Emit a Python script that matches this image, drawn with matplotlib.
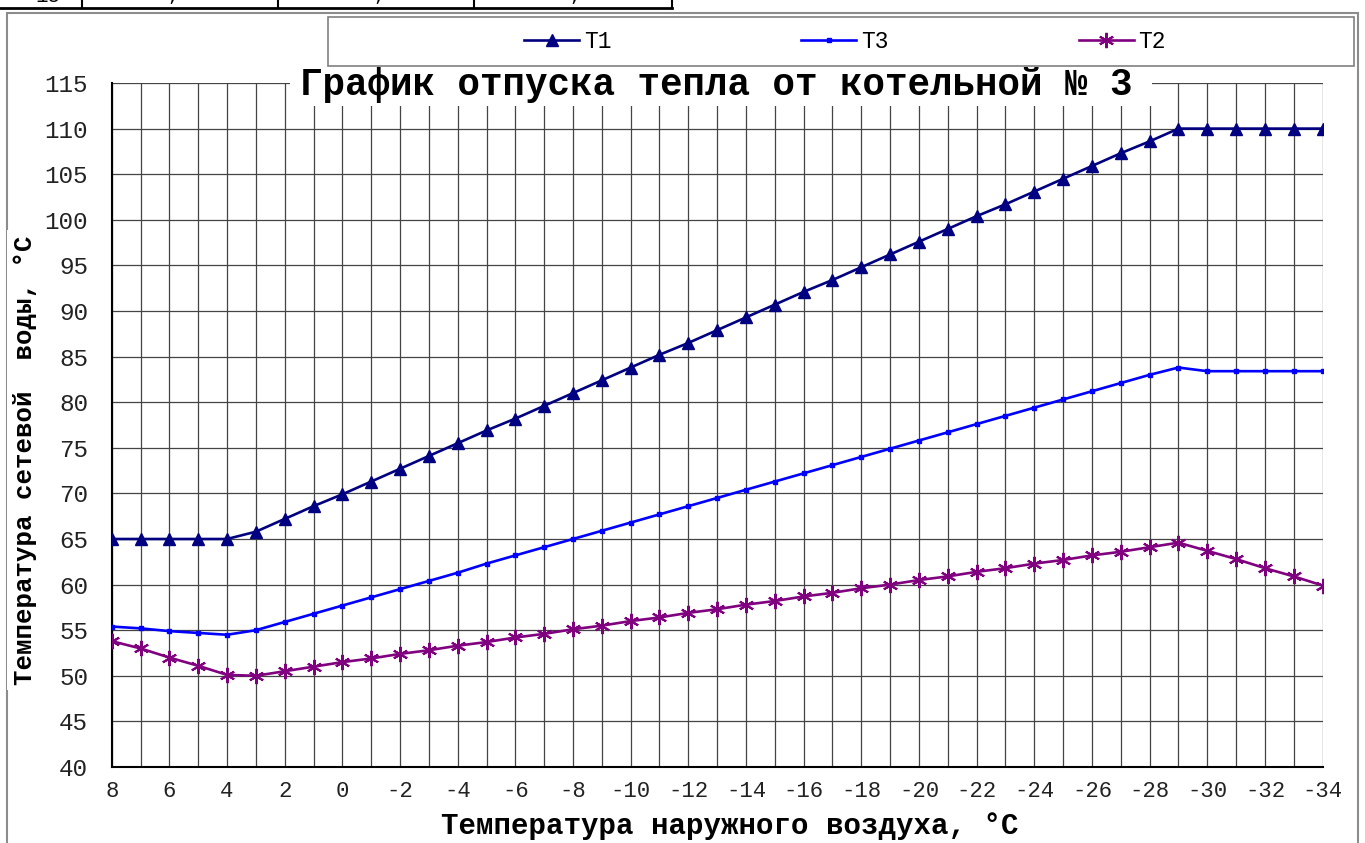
import matplotlib.pyplot as plt
from matplotlib.patches import Rectangle
from matplotlib.lines import Line2D

plt.rcParams['font.family'] = ['Liberation Mono', 'DejaVu Sans Mono']
plt.rcParams['axes.unicode_minus'] = False

# Outdoor temperature, 8 .. -34
t_out = list(range(8, -35, -1))

t1 = [65.0, 65.0, 65.0, 65.0, 65.0,
      65.8, 67.2, 68.6, 69.9, 71.3, 72.7, 74.1, 75.5, 76.9, 78.2, 79.6,
      81.0, 82.4, 83.8, 85.2, 86.5, 87.9, 89.3, 90.7, 92.1, 93.4, 94.8,
      96.2, 97.6, 99.0, 100.4, 101.7, 103.1, 104.5, 105.9, 107.3, 108.6,
      110.0, 110.0, 110.0, 110.0, 110.0, 110.0]

t3 = [55.4, 55.2, 54.9, 54.7, 54.5,
      55.0, 55.9, 56.8, 57.7, 58.6, 59.5, 60.4, 61.3, 62.3, 63.2, 64.1,
      65.0, 65.9, 66.8, 67.7, 68.6, 69.5, 70.4, 71.3, 72.2, 73.1, 74.0,
      74.9, 75.8, 76.7, 77.6, 78.5, 79.4, 80.3, 81.2, 82.1, 83.0,
      83.8, 83.4, 83.4, 83.4, 83.4, 83.4]

t2 = [53.8, 53.0, 52.0, 51.1, 50.1,
      50.0, 50.5, 51.0, 51.5, 51.9, 52.4, 52.8, 53.3, 53.7, 54.2, 54.6,
      55.1, 55.5, 56.0, 56.4, 56.9, 57.3, 57.8, 58.2, 58.7, 59.1, 59.6,
      60.0, 60.5, 60.9, 61.4, 61.8, 62.3, 62.7, 63.2, 63.6, 64.1,
      64.6, 63.7, 62.8, 61.8, 60.9, 59.9]

W, H = 1365, 843
def fx(p):
    return p / W
def fy(p):
    return 1 - p / H

fig = plt.figure(figsize=(W / 100, H / 100), dpi=100)
ax = fig.add_axes([fx(111.7), fy(767), fx(1322.6) - fx(111.7), fy(83) - fy(767)])

l1, = ax.plot(t_out, t1, color='#000080', lw=1.9, marker='^', ms=9, zorder=4)
l3, = ax.plot(t_out, t3, color='#0000FF', lw=1.9, marker='s', ms=3.2, zorder=3)
l2, = ax.plot(t_out, t2, color='#800080', lw=1.9, marker=(6, 2, 0), ms=11,
              mew=1.5, zorder=3)

ax.set_xlim(8, -34)
ax.set_ylim(40, 115)
ax.set_xticks(range(8, -35, -2))
ax.set_xticks(range(8, -35, -1), minor=True)
ax.set_yticks(range(40, 116, 5))
ax.grid(True, which='both', color='#444444', lw=0.9)
ax.tick_params(which='both', length=0)
ax.tick_params(axis='x', pad=10, labelsize=16, labelcolor='#222222')
ax.tick_params(axis='y', pad=17, labelsize=17.5, labelcolor='#222222')
for s in ['top', 'right']:
    ax.spines[s].set_visible(False)
for s in ['left', 'bottom']:
    ax.spines[s].set_color('black')
    ax.spines[s].set_linewidth(1.5)

# chart frame and a piece of the table above it
fig.add_artist(Rectangle((fx(7), -0.02), fx(1358) - fx(7), fy(13) + 0.02,
                         transform=fig.transFigure, fill=False,
                         ec='#8c8c8c', lw=1.5, zorder=1))
fig.add_artist(Line2D([0, fx(672)], [fy(8), fy(8)], color='black', lw=2))
for xp in [82, 278, 474, 672]:
    fig.add_artist(Line2D([fx(xp), fx(xp)], [1, fy(8)], color='black', lw=1.5))
fig.text(fx(48), fy(-3), '15', ha='center', va='center', fontsize=15)
for xp in [174, 380, 576]:
    fig.text(fx(xp), fy(-6), ',', ha='center', va='center', fontsize=15)

# title on a white patch over the grid
fig.add_artist(Rectangle((fx(290), fy(106)), fx(1152) - fx(290), 40 / H,
                         transform=fig.transFigure, fc='white', ec='none',
                         zorder=4))
fig.text(fx(716), fy(85), 'График отпуска тепла от котельной № 3',
         ha='center', va='center', fontsize=27, fontweight='bold', zorder=5)

# legend
fig.legend([l1, l3, l2], ['T1', 'T3', 'T2'], loc='center',
           bbox_to_anchor=(fx(845), fy(42)), ncol=3, frameon=False,
           fontsize=16.5, handlelength=2.4, handletextpad=0.2,
           columnspacing=8.3)
fig.add_artist(Rectangle((fx(328), fy(66)), fx(1354) - fx(328), 49 / H,
                         transform=fig.transFigure, fill=False,
                         ec='#808080', lw=1.2, zorder=6))

fig.text(fx(25), fy(460), 'Температура сетевой  воды, °С', rotation=90,
         ha='center', va='center', fontsize=18.5, fontweight='bold', zorder=5,
         bbox=dict(fc='white', ec='none', pad=4))
fig.text(fx(730), fy(826), 'Температура наружного воздуха, °С',
         ha='center', va='center', fontsize=21, fontweight='bold')

fig.savefig('out.png', dpi=100)
